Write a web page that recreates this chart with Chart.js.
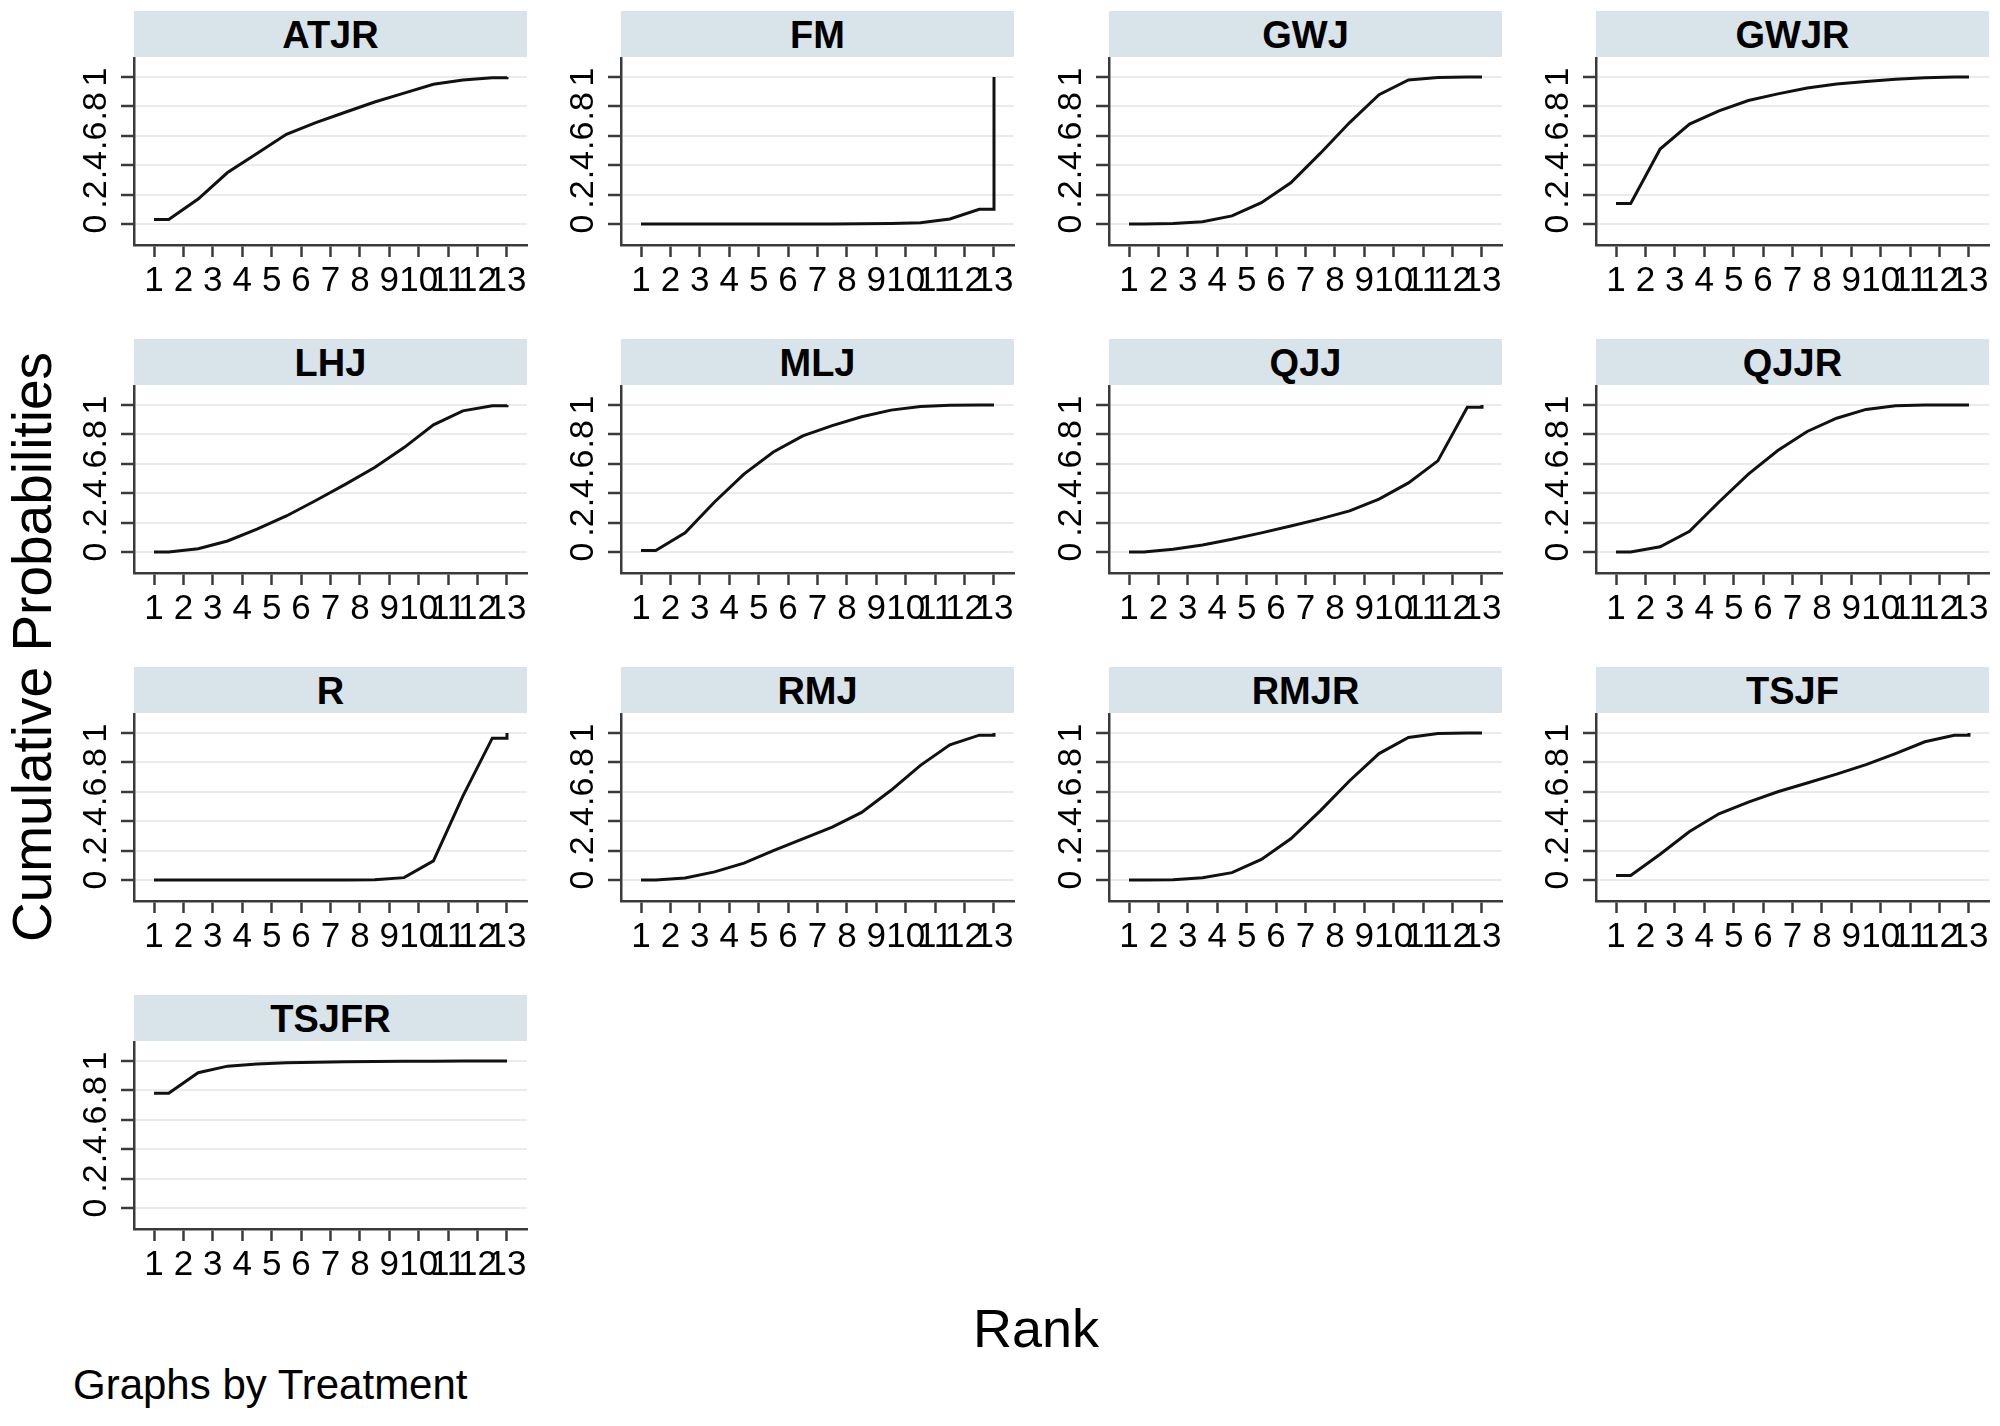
<!DOCTYPE html>
<html>
<head>
<meta charset="utf-8">
<script src="https://cdn.jsdelivr.net/npm/chart.js@4"></script>
<style>
  html, body { margin: 0; padding: 0; background: #fff; }
  body { width: 2000px; height: 1426px; position: relative; overflow: hidden;
         font-family: "Liberation Sans", Arial, Helvetica, sans-serif; color: #000; }
  .head { position: absolute; width: 393px; height: 46px; background: #d9e4ea;
          text-align: center; line-height: 48px; font-size: 38px; font-weight: bold; }
  .panel { position: absolute; }
  .txt { position: absolute; text-align: center; white-space: nowrap; }
</style>
</head>
<body>

<div class="txt" style="left:-318px; top:617px; width:700px; height:60px; line-height:60px; font-size:55px; transform:rotate(-90deg);">Cumulative Probabilities</div>
<div class="txt" style="left:836px; top:1296px; width:400px; height:64px; line-height:64px; font-size:54px;">Rank</div>
<div class="txt" style="left:73px; top:1360px; height:50px; line-height:50px; font-size:42px; text-align:left;">Graphs by Treatment</div>

<script>
// treatments (panel order)
var treatments = ['ATJR', 'FM', 'GWJ', 'GWJR', 'LHJ', 'MLJ', 'QJJ', 'QJJR', 'R', 'RMJ', 'RMJR', 'TSJF', 'TSJFR'];

// cumulative probability of being at rank 1..13
var cumATJR  = [0.03, 0.17, 0.35, 0.48, 0.61, 0.69, 0.76, 0.83, 0.89, 0.95, 0.98, 0.995, 1];
var cumFM    = [0, 0, 0, 0, 0, 0, 0, 0.001, 0.003, 0.009, 0.034, 0.10, 1];
var cumGWJ   = [0, 0.003, 0.015, 0.055, 0.145, 0.28, 0.48, 0.69, 0.88, 0.98, 0.997, 1, 1];
var cumGWJR  = [0.14, 0.51, 0.68, 0.77, 0.84, 0.885, 0.925, 0.952, 0.97, 0.985, 0.995, 1, 1];
var cumLHJ   = [0, 0.022, 0.075, 0.155, 0.245, 0.35, 0.46, 0.575, 0.71, 0.865, 0.96, 0.995, 1];
var cumMLJ   = [0.01, 0.13, 0.34, 0.53, 0.68, 0.79, 0.86, 0.92, 0.965, 0.99, 0.998, 1, 1];
var cumQJJ   = [0, 0.018, 0.048, 0.086, 0.13, 0.177, 0.225, 0.28, 0.36, 0.47, 0.62, 0.985, 1];
var cumQJJR  = [0, 0.035, 0.14, 0.34, 0.53, 0.69, 0.82, 0.91, 0.97, 0.995, 1, 1, 1];
var cumR     = [0, 0, 0, 0, 0, 0, 0, 0.002, 0.016, 0.13, 0.57, 0.965, 1];
var cumRMJ   = [0, 0.014, 0.055, 0.115, 0.2, 0.28, 0.36, 0.46, 0.61, 0.78, 0.92, 0.985, 1];
var cumRMJR  = [0, 0.002, 0.015, 0.05, 0.14, 0.28, 0.47, 0.675, 0.86, 0.97, 0.997, 1, 1];
var cumTSJF  = [0.03, 0.175, 0.33, 0.45, 0.53, 0.60, 0.66, 0.72, 0.785, 0.86, 0.94, 0.985, 1];
var cumTSJFR = [0.78, 0.92, 0.965, 0.98, 0.988, 0.992, 0.995, 0.997, 0.998, 0.999, 1, 1, 1];

var cumProb = [cumATJR, cumFM, cumGWJ, cumGWJR, cumLHJ, cumMLJ, cumQJJ, cumQJJR,
               cumR, cumRMJ, cumRMJR, cumTSJF, cumTSJFR];

// where each rank's value sits on the x axis (stata draws it this way)
var plotX    = [1, 1.5, 2.5, 3.5, 4.5, 5.5, 6.5, 7.5, 8.5, 9.5, 10.5, 11.5, 12.5, 13, 13];
var plotRank = [1, 1, 2, 3, 4, 5, 6, 7, 8, 9, 10, 11, 12, 12, 13];

// tick labels
var rankTicks  = [1, 2, 3, 4, 5, 6, 7, 8, 9, 10, 11, 12, 13];
var probTicks  = [0, 0.2, 0.4, 0.6, 0.8, 1];
var probLabels = ['0', '.2', '.4', '.6', '.8', '1'];

// layout of the 4-column grid
var colLeft = [134, 621, 1109, 1596];
var rowTop = [11, 339, 667, 995];
var HEAD_H = 46, PLOT_W = 393, PLOT_H = 188, YAX_W = 80, XAX_H = 60, PAD_R = 20;
var FONT = '"Liberation Sans", Arial, Helvetica, sans-serif';
var AXIS = '#3a3a3a';

// rotated y tick labels, placed from the y scale
var yLabelPlugin = {
    id: 'yLabels',
    afterDraw: function(chart) {
        var ctx = chart.ctx, ys = chart.scales.y, left = chart.chartArea.left;
        ctx.save();
        ctx.fillStyle = '#000';
        ctx.font = '34px ' + FONT;
        ctx.textAlign = 'center';
        ctx.textBaseline = 'middle';
        probTicks.forEach(function(v, i) {
            ctx.save();
            ctx.translate(left - 38, ys.getPixelForValue(v));
            ctx.rotate(-Math.PI / 2);
            ctx.fillText(probLabels[i], 0, 1);
            ctx.restore();
        });
        ctx.restore();
    }
};

treatments.forEach(function(name, k) {
    var c = k % 4, r = Math.floor(k / 4);
    var bx = colLeft[c], by = rowTop[r];

    var head = document.createElement('div');
    head.className = 'head';
    head.style.left = bx + 'px';
    head.style.top = by + 'px';
    head.textContent = name;
    document.body.appendChild(head);

    var cv = document.createElement('canvas');
    cv.className = 'panel';
    cv.width = YAX_W + PLOT_W + PAD_R;
    cv.height = PLOT_H + XAX_H;
    cv.style.left = (bx - YAX_W) + 'px';
    cv.style.top = (by + HEAD_H) + 'px';
    document.body.appendChild(cv);

    var vals = cumProb[k];
    var pts = plotX.map(function(x, i) { return { x: x, y: vals[plotRank[i] - 1] }; });

    new Chart(cv, {
        type: 'line',
        data: {
            datasets: [{
                label: name,
                data: pts,
                borderColor: '#111',
                borderWidth: 3,
                pointRadius: 0,
                tension: 0,
                fill: false
            }]
        },
        options: {
            responsive: false,
            animation: false,
            devicePixelRatio: 1,
            layout: { padding: { left: 0, right: PAD_R, top: 0, bottom: 0 } },
            plugins: { legend: { display: false }, tooltip: { enabled: false } },
            scales: {
                x: {
                    type: 'linear',
                    min: 0.32,
                    max: 13.68,
                    afterBuildTicks: function(s) { s.ticks = rankTicks.map(function(v) { return { value: v }; }); },
                    afterFit: function(s) { s.height = XAX_H; },
                    grid: { drawOnChartArea: false, drawTicks: true, tickLength: 12, tickColor: AXIS, tickWidth: 2.5 },
                    border: { display: true, color: AXIS, width: 2.5 },
                    ticks: {
                        autoSkip: false, maxRotation: 0, minRotation: 0, padding: 3,
                        color: '#000', font: { family: FONT, size: 35 },
                        callback: function(v) { return String(v); }
                    }
                },
                y: {
                    type: 'linear',
                    min: -0.143,
                    max: 1.136,
                    afterBuildTicks: function(s) { s.ticks = probTicks.map(function(v) { return { value: v }; }); },
                    afterFit: function(s) { s.width = YAX_W; },
                    grid: { color: '#ebebeb', lineWidth: 2, drawTicks: true, tickLength: 13, tickColor: AXIS, tickWidth: 2.5 },
                    border: { display: true, color: AXIS, width: 2.5 },
                    ticks: { display: false }
                }
            }
        },
        plugins: [yLabelPlugin]
    });
});
</script>
</body>
</html>
